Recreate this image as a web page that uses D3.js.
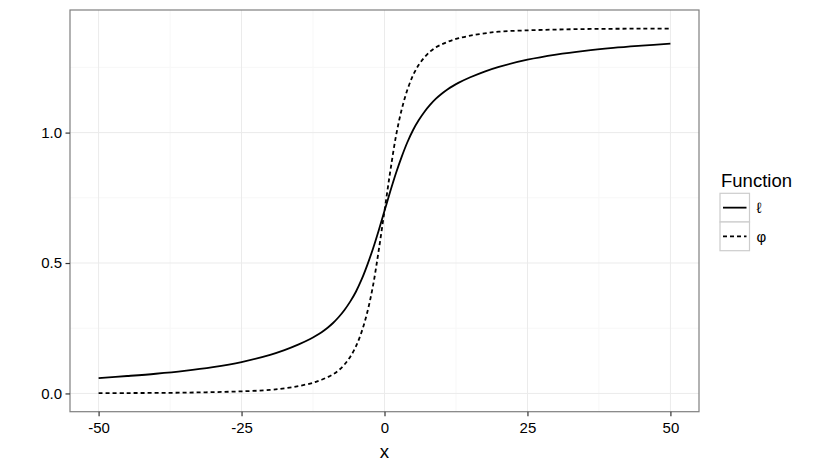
<!DOCTYPE html>
<html lang="en">
<head>
<meta charset="utf-8"/>
<title>Function curves</title>
<script src="https://d3js.org/d3.v7.min.js" charset="utf-8"></script>
<style>
  body { margin: 0; background: #fff; }
  text { font-family: "Liberation Sans", Arial, Helvetica, sans-serif; fill: #000; }
  .axis .domain { display: none; }
  .axis line { stroke: #333; }
  .axis text { font-size: 15px; }
</style>
</head>
<body>
<div id="chart"></div>
<script>
// values
var xs = [-50, -45, -40, -35, -30, -25, -20, -17.5, -15, -13, -12, -11, -10, -9, -8, -7, -6, -5, -4, -3, -2, -1, 0,
          1, 2, 3, 4, 5, 6, 7, 8, 9, 10, 11, 12, 13, 15, 17.5, 20, 25, 30, 35, 40, 45, 50];

var ellValues = [0.059, 0.0668, 0.0755, 0.0865, 0.101, 0.1205, 0.148, 0.166, 0.188, 0.2086, 0.2208, 0.2348, 0.251, 0.270, 0.293, 0.320, 0.352, 0.390, 0.437, 0.493, 0.556, 0.626, 0.700,
                 0.774, 0.844, 0.907, 0.963, 1.010, 1.048, 1.080, 1.107, 1.130, 1.149, 1.1652, 1.1792, 1.1914, 1.212, 1.234, 1.252, 1.2795, 1.299, 1.3135, 1.3245, 1.3332, 1.341];

var phiValues = [0.001, 0.0015, 0.002, 0.003, 0.005, 0.008, 0.0135, 0.0195, 0.0285, 0.038, 0.0445, 0.0525, 0.062, 0.073, 0.089, 0.111, 0.140, 0.180, 0.236, 0.312, 0.414, 0.550, 0.700,
                 0.850, 0.986, 1.088, 1.164, 1.220, 1.260, 1.289, 1.311, 1.327, 1.338, 1.3475, 1.3555, 1.362, 1.3715, 1.3805, 1.387, 1.392, 1.395, 1.397, 1.398, 1.3985, 1.399];

var seriesNames = ["\u2113", "\u03c6"];
var seriesDash = [null, "4,3"];

var xTicks = [-50, -25, 0, 25, 50];
var xMinor = [-37.5, -12.5, 12.5, 37.5];
var yTicks = [0, 0.5, 1.0];
var yMinor = [0.25, 0.75, 1.25];

var width = 826, height = 472;
var panel = {left: 70, right: 699, top: 10, bottom: 411.7};

var svg = d3.select("#chart").append("svg")
  .attr("width", width)
  .attr("height", height);

// ggplot style 5% expansion on both axes
var xDom = [-50, 50], yDom = [0, 1.4];
var xPad = (xDom[1] - xDom[0]) * 0.05, yPad = (yDom[1] - yDom[0]) * 0.05;

var x = d3.scaleLinear()
  .domain([xDom[0] - xPad, xDom[1] + xPad])
  .range([panel.left, panel.right]);

var y = d3.scaleLinear()
  .domain([yDom[0] - yPad, yDom[1] + yPad])
  .range([panel.bottom, panel.top]);

// grid
var grid = svg.append("g");
grid.selectAll(".minx").data(xMinor).enter().append("line")
  .attr("x1", x).attr("x2", x).attr("y1", panel.top).attr("y2", panel.bottom)
  .attr("stroke", "#f7f7f7").attr("stroke-width", 1);
grid.selectAll(".miny").data(yMinor).enter().append("line")
  .attr("y1", y).attr("y2", y).attr("x1", panel.left).attr("x2", panel.right)
  .attr("stroke", "#f7f7f7").attr("stroke-width", 1);
grid.selectAll(".majx").data(xTicks).enter().append("line")
  .attr("x1", x).attr("x2", x).attr("y1", panel.top).attr("y2", panel.bottom)
  .attr("stroke", "#ebebeb").attr("stroke-width", 1);
grid.selectAll(".majy").data(yTicks).enter().append("line")
  .attr("y1", y).attr("y2", y).attr("x1", panel.left).attr("x2", panel.right)
  .attr("stroke", "#ebebeb").attr("stroke-width", 1);

// lines
var rows = xs.map(function(d, i) { return {x: d, ell: ellValues[i], phi: phiValues[i]}; });
var keys = ["ell", "phi"];

var line = d3.line()
  .curve(d3.curveCatmullRom.alpha(0.5))
  .x(function(d) { return x(d.x); });

keys.forEach(function(k, i) {
  svg.append("path")
    .datum(rows)
    .attr("fill", "none")
    .attr("stroke", "#000")
    .attr("stroke-width", 1.8)
    .attr("stroke-dasharray", seriesDash[i])
    .attr("d", line.y(function(d) { return y(d[k]); }));
});

// panel border
svg.append("rect")
  .attr("x", panel.left).attr("y", panel.top)
  .attr("width", panel.right - panel.left)
  .attr("height", panel.bottom - panel.top)
  .attr("fill", "none")
  .attr("stroke", "#7f7f7f")
  .attr("stroke-width", 1.2);

// axes
svg.append("g")
  .attr("class", "axis axis--x")
  .attr("transform", "translate(0," + panel.bottom + ")")
  .call(d3.axisBottom(x).tickValues(xTicks).tickSize(4.5).tickPadding(6.4)
    .tickFormat(function(d) { return d3.format("d")(d).replace("\u2212", "-"); }));

svg.append("g")
  .attr("class", "axis axis--y")
  .attr("transform", "translate(" + panel.left + ",0)")
  .call(d3.axisLeft(y).tickValues(yTicks).tickSize(4.5).tickPadding(3.5)
    .tickFormat(d3.format(".1f")));

svg.selectAll(".axis line").attr("stroke-width", 1.2);

// axis title
svg.append("text")
  .attr("x", (panel.left + panel.right) / 2)
  .attr("y", 457.7)
  .attr("text-anchor", "middle")
  .style("font-size", "18.7px")
  .text("x");

// legend
var legend = svg.append("g").attr("transform", "translate(720,0)");

legend.append("text")
  .attr("x", 1)
  .attr("y", 186.7)
  .style("font-size", "18.5px")
  .text("Function");

var keyH = 28.7, keyW = 29.5, keyTop = 193.3;

var item = legend.selectAll(".item")
  .data(seriesNames)
  .enter().append("g")
  .attr("transform", function(d, i) { return "translate(0," + (keyTop + i * keyH) + ")"; });

item.append("rect")
  .attr("width", keyW)
  .attr("height", keyH)
  .attr("fill", "#fff")
  .attr("stroke", "#cccccc")
  .attr("stroke-width", 1.2);

item.append("line")
  .attr("x1", 3).attr("x2", keyW - 3)
  .attr("y1", keyH / 2).attr("y2", keyH / 2)
  .attr("stroke", "#000")
  .attr("stroke-width", 1.8)
  .attr("stroke-dasharray", function(d, i) { return seriesDash[i]; });

item.append("text")
  .attr("x", keyW + 7)
  .attr("y", keyH / 2)
  .attr("dy", "0.35em")
  .style("font-size", "15px")
  .text(function(d) { return d; });
</script>
</body>
</html>
